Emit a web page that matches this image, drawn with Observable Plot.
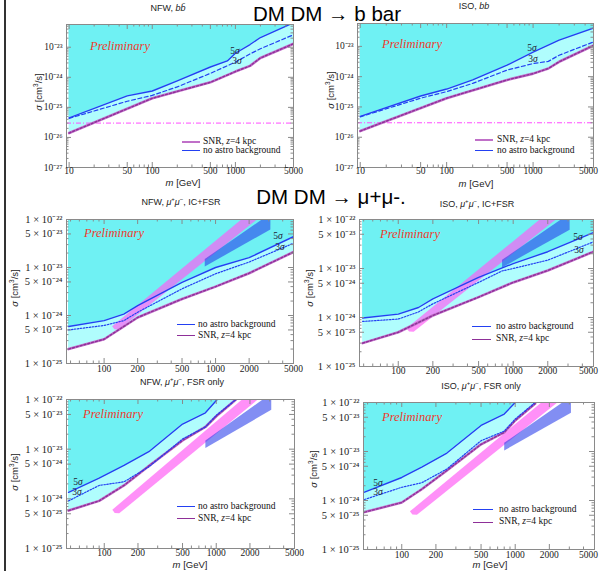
<!DOCTYPE html>
<html><head><meta charset="utf-8">
<script src="https://cdn.jsdelivr.net/npm/d3@7"></script>
<script src="https://cdn.jsdelivr.net/npm/@observablehq/plot@0.6"></script>
<style>
body{margin:0;background:#fff;}
#root{position:relative;width:600px;height:571px;overflow:hidden;background:#fff;font-family:"Liberation Sans",Arial,sans-serif;}
.panel{position:absolute;}
.t{position:absolute;white-space:nowrap;line-height:1;}
.ln{position:absolute;height:0;}
</style></head><body><div id="root"></div>
<script>
// ---------- tick labels ----------
const xTicksBB = [10, 50, 100, 500, 1000, 5000];
const xTicksMM = [100, 200, 500, 1000, 2000, 5000];
const yTicksBB = [1e-27, 1e-26, 1e-25, 1e-24, 1e-23];
const yLabelsBB = ["10⁻²⁷", "10⁻²⁶", "10⁻²⁵", "10⁻²⁴", "10⁻²³"];
const yTicksMM = [1e-25, 5e-25, 1e-24, 5e-24, 1e-23, 5e-23, 1e-22];
const yLabelsMM = ["1 × 10⁻²⁵", "5 × 10⁻²⁵", "1 × 10⁻²⁴", "5 × 10⁻²⁴", "1 × 10⁻²³", "5 × 10⁻²³", "1 × 10⁻²²"];

// ---------- DM DM -> b bbar, NFW ----------
const bbNFWMass5 = [10, 50, 100, 200, 500, 800, 1000, 1500, 2000, 5000];
const bbNFW5 = [4.5e-26, 2.4e-25, 3.5e-25, 7.6e-25, 2.2e-24, 3.5e-24, 6.3e-24, 1.23e-23, 2.1e-23, 6.5e-23];
const bbNFWMass3 = [10, 50, 100, 200, 500, 1000, 1500, 2000, 5000];
const bbNFW3 = [4.3e-26, 1.6e-25, 2.5e-25, 4.8e-25, 1.35e-24, 3.2e-24, 6.0e-24, 8.9e-24, 2.6e-23];
const bbNFWMassSNR = [10, 100, 500, 1000, 1500, 2000, 5000];
const bbNFWSNR = [1.4e-26, 2.0e-25, 6.8e-25, 1.55e-24, 2.4e-24, 4.4e-24, 1.3e-23];
// ---------- DM DM -> b bbar, ISO ----------
const bbISOMass5 = [10, 50, 100, 200, 500, 1000, 2000, 5000];
const bbISO5 = [4.9e-26, 2.3e-25, 3.9e-25, 7.8e-25, 2.4e-24, 6.5e-24, 1.6e-23, 4.0e-23];
const bbISOMass3 = [10, 50, 100, 200, 500, 1000, 1500, 2000, 5000];
const bbISO3 = [4.7e-26, 1.95e-25, 3.2e-25, 6.0e-25, 1.65e-24, 2.7e-24, 3.2e-24, 5.1e-24, 1.4e-23];
const bbISOMassSNR = [10, 100, 500, 1000, 1500, 2000, 5000];
const bbISOSNR = [1.6e-26, 1.95e-25, 7.8e-25, 1.26e-24, 1.86e-24, 3.1e-24, 1.07e-23];
const thermalRelic = [3e-26];

// ---------- DM DM -> mu+ mu-, IC+FSR, NFW ----------
const icNFWMass5 = [48, 100, 150, 200, 500, 1000, 2000, 5000];
const icNFW5 = [5.9e-25, 7.8e-25, 1.07e-24, 1.6e-24, 4.9e-24, 1.0e-23, 1.6e-23, 4.4e-23];
const icNFWMass3 = [48, 100, 150, 200, 500, 1000, 2000, 5000];
const icNFW3 = [5.0e-25, 6.2e-25, 7.8e-25, 1.17e-24, 3.6e-24, 7.4e-24, 1.3e-23, 3.2e-23];
const icNFWMassSNR = [48, 100, 200, 500, 1000, 2000, 5000];
const icNFWSNR = [2.0e-25, 3.2e-25, 9.1e-25, 2.2e-24, 4.0e-24, 7.6e-24, 2.1e-23];
// ---------- IC+FSR, ISO ----------
const icISOMass5 = [49, 100, 150, 200, 500, 1000, 2000, 5000];
const icISO5 = [9.8e-25, 1.17e-24, 1.6e-24, 2.4e-24, 6.6e-24, 1.26e-23, 2.2e-23, 5.4e-23];
const icISOMass3 = [49, 100, 150, 200, 500, 800, 1000, 2000, 5000];
const icISO3 = [8.3e-25, 9.3e-25, 1.3e-24, 1.9e-24, 5.2e-24, 8.9e-24, 1.0e-23, 1.48e-23, 3.5e-23];
const icISOMassSNR = [49, 100, 200, 500, 1000, 2000, 5000];
const icISOSNR = [3.0e-25, 5.0e-25, 1.1e-24, 2.6e-24, 5.2e-24, 9.1e-24, 2.2e-23];

// ---------- FSR only, NFW ----------
const fsrNFWMass5 = [48, 90, 150, 250, 500, 800, 1020];
const fsrNFW5 = [1.35e-24, 2.6e-24, 4.7e-24, 8.9e-24, 3.2e-23, 5.4e-23, 1.0e-22];
const fsrNFWMass3 = [48, 90, 150, 250, 500, 800, 1000, 1500];
const fsrNFW3 = [9.1e-25, 1.86e-24, 2.2e-24, 4.4e-24, 1.6e-23, 2.8e-23, 4.8e-23, 1.0e-22];
const fsrNFWMassSNR = [48, 90, 150, 250, 500, 800, 1000, 1500];
const fsrNFWSNR = [5.8e-25, 9.1e-25, 1.86e-24, 4.6e-24, 1.5e-23, 2.8e-23, 4.6e-23, 1.0e-22];
// ---------- FSR only, ISO ----------
const fsrISOMass5 = [47, 100, 150, 250, 500, 800, 1000];
const fsrISO5 = [1.48e-24, 2.95e-24, 4.8e-24, 9.3e-24, 3.4e-23, 5.8e-23, 1.0e-22];
const fsrISOMass3 = [47, 100, 150, 250, 500, 800, 1000, 1500];
const fsrISO3 = [1.05e-24, 1.86e-24, 2.3e-24, 4.4e-24, 1.66e-23, 2.6e-23, 4.6e-23, 1.0e-22];
const fsrISOMassSNR = [47, 100, 150, 250, 500, 800, 1000, 1500];
const fsrISOSNR = [5.8e-25, 9.1e-25, 1.7e-24, 4.1e-24, 1.4e-23, 2.45e-23, 4.3e-23, 9.5e-23];

// ---------- favoured regions (polygons) ----------
const pinkBandMass = [118, 124, 136, 2350, 1700];
const pinkBandSigma = [6.0e-25, 5.2e-25, 5.1e-25, 1e-22, 1e-22];
const blueBandMass = [800, 2600, 3100, 3100, 800];
const blueBandSigma = [1.5e-23, 1e-22, 1e-22, 6.2e-23, 1.05e-23];

// ---------- styling ----------
const LIGHT = "#b0fdfd", DARK = "#6ff1f3";
const BLUE = "#2340f2", PURPLE = "#8e2f98", PURPLE_L = "#c070c8";
const FRAME = "#8a8a8a";

const rows = (ms, vs) => ms.map((m, i) => ({m, s: vs[i]}));
const root = document.getElementById("root");

function minorTicks(lo, hi, mults) {
  const out = [];
  for (let e = -30; e <= 6; e++) for (const k of mults) {
    const v = k * Math.pow(10, e);
    if (v > lo * 1.0001 && v < hi * 0.9999) out.push(v);
  }
  return out;
}

function panel(c) {
  const fw = c.width - c.ml - c.mr, fh = c.height - c.mt - c.mb;
  const yTop = c.yDomain[1];
  const s5 = rows(c.s5[0], c.s5[1]), s3 = rows(c.s3[0], c.s3[1]), snr = rows(c.snr[0], c.snr[1]);
  const xMin = minorTicks(c.xDomain[0], c.xDomain[1], [2,3,4,5,6,7,8,9]).filter(v => !c.xTicks.includes(v));
  const yMin = minorTicks(c.yDomain[0], c.yDomain[1], [2,3,4,5,6,7,8,9]).filter(v => !c.yTicks.some(t => Math.abs(t - v) / v < 1e-6));
  const marks = [
    Plot.areaY(snr, {x: "m", y1: "s", y2: () => yTop, fill: LIGHT, clip: true}),
    Plot.areaY(s5, {x: "m", y1: "s", y2: () => yTop, fill: DARK, clip: true})
  ];
  if (c.relic) marks.push(Plot.ruleY(thermalRelic, {stroke: "#ff4cff", strokeWidth: 1, strokeDasharray: "5,2,1,2"}));
  if (c.bands) {
    marks.push(Plot.line(rows(pinkBandMass, pinkBandSigma), {x: "m", y: "s", fill: "#ff5cf5", fillOpacity: 0.68, stroke: "none", clip: true}));
    marks.push(Plot.line(rows(blueBandMass, blueBandSigma), {x: "m", y: "s", fill: "#283ceb", fillOpacity: 0.58, stroke: "none", clip: true}));
  }
  const lastDx = c.lastDx || 0;
  marks.push(
    Plot.line(snr, {x: "m", y: "s", stroke: PURPLE_L, strokeWidth: 2.6, clip: true}),
    Plot.line(snr, {x: "m", y: "s", stroke: PURPLE, strokeWidth: 1.4, strokeDasharray: "2,2", clip: true}),
    Plot.line(s3, {x: "m", y: "s", stroke: BLUE, strokeWidth: 1.2, strokeDasharray: c.dash3, clip: true}),
    Plot.line(s5, {x: "m", y: "s", stroke: BLUE, strokeWidth: 1.4, clip: true}),
    Plot.frame({stroke: FRAME, strokeWidth: 1}),
    // inward ticks on all four sides
    Plot.tickX(c.xTicks, {x: d => d, insetTop: fh - 5, stroke: FRAME}),
    Plot.tickX(c.xTicks, {x: d => d, insetBottom: fh - 5, stroke: FRAME}),
    Plot.tickX(xMin, {x: d => d, insetTop: fh - 2.5, stroke: FRAME}),
    Plot.tickX(xMin, {x: d => d, insetBottom: fh - 2.5, stroke: FRAME}),
    Plot.tickY(c.yTicks, {y: d => d, insetRight: fw - 5, stroke: FRAME}),
    Plot.tickY(c.yTicks, {y: d => d, insetLeft: fw - 5, stroke: FRAME}),
    Plot.tickY(yMin, {y: d => d, insetRight: fw - 2.5, stroke: FRAME}),
    Plot.tickY(yMin, {y: d => d, insetLeft: fw - 2.5, stroke: FRAME}),
    Plot.text(c.xTicks.slice(0, -1), {x: d => d, text: d => String(d), frameAnchor: "bottom", dy: c.xdy, fontSize: 9.5, fill: "#222"}),
    Plot.text(c.xTicks.slice(-1), {x: d => d, text: d => String(d), frameAnchor: "bottom", dy: c.xdy, dx: lastDx, fontSize: 9.5, fill: "#222"}),
    Plot.text(c.yTicks, {y: d => d, text: (d, i) => c.yLabels[i], frameAnchor: "left", dx: -4, textAnchor: "end", fontSize: c.yfs, fill: "#222"})
  );
  const svg = Plot.plot({
    width: c.width, height: c.height,
    marginLeft: c.ml, marginRight: c.mr, marginTop: c.mt, marginBottom: c.mb,
    x: {type: "log", domain: c.xDomain, axis: null},
    y: {type: "log", domain: c.yDomain, axis: null},
    style: {background: "transparent", overflow: "visible", fontFamily: "'Liberation Serif', 'Times New Roman', serif"},
    marks
  });
  const div = document.createElement("div");
  div.className = "panel";
  div.style.left = c.left + "px"; div.style.top = c.top + "px"; div.style.width = c.width + "px";
  div.appendChild(svg);
  root.appendChild(div);
}

const bbCommon = {width: 300, height: 190, xDomain: [9.3, 5000], yDomain: [1e-27, 5.7e-23], xTicks: xTicksBB, yTicks: yTicksBB, yLabels: yLabelsBB, relic: true, dash3: "4,2.5", xdy: 6, yfs: 9.5};
const mmCommon = {xDomain: [46, 5000], yDomain: [1e-25, 1e-22], xTicks: xTicksMM, yTicks: yTicksMM, yLabels: yLabelsMM, bands: true, dash3: "1.5,1.5", yfs: 10.5};

panel({...bbCommon, left: 0, top: 0, ml: 66, mr: 7, mt: 24, mb: 23,
  s5: [bbNFWMass5, bbNFW5], s3: [bbNFWMass3, bbNFW3], snr: [bbNFWMassSNR, bbNFWSNR]});
panel({...bbCommon, left: 300, top: 0, ml: 57, mr: 7, mt: 23, mb: 23, lastDx: -5,
  s5: [bbISOMass5, bbISO5], s3: [bbISOMass3, bbISO3], snr: [bbISOMassSNR, bbISOSNR]});
panel({...mmCommon, left: 0, top: 190, width: 300, height: 190, ml: 66, mr: 7, mt: 29, mb: 17, xdy: 8,
  s5: [icNFWMass5, icNFW5], s3: [icNFWMass3, icNFW3], snr: [icNFWMassSNR, icNFWSNR]});
panel({...mmCommon, left: 300, top: 190, width: 300, height: 190, ml: 59, mr: 7, mt: 29, mb: 14, xdy: 7, lastDx: -5,
  s5: [icISOMass5, icISO5], s3: [icISOMass3, icISO3], snr: [icISOMassSNR, icISOSNR]});
panel({...mmCommon, left: 0, top: 375, width: 300, height: 196, ml: 66, mr: 6, mt: 24, mb: 23, xdy: 7,
  s5: [fsrNFWMass5, fsrNFW5], s3: [fsrNFWMass3, fsrNFW3], snr: [fsrNFWMassSNR, fsrNFWSNR]});
panel({...mmCommon, left: 300, top: 375, width: 300, height: 196, ml: 63, mr: 6, mt: 27, mb: 22, xdy: 8, lastDx: -6,
  s5: [fsrISOMass5, fsrISO5], s3: [fsrISOMass3, fsrISO3], snr: [fsrISOMassSNR, fsrISOSNR]});

// ---------- text overlay ----------
function addText(html, x, y, style = {}, anchor = "middle", rotate = 0) {
  const d = document.createElement("div");
  d.className = "t";
  d.innerHTML = html;
  d.style.left = x + "px"; d.style.top = y + "px";
  const tx = anchor === "start" ? "0" : "-50%";
  d.style.transform = `translate(${tx},-50%)` + (rotate ? ` rotate(${rotate}deg)` : "");
  Object.assign(d.style, style);
  root.appendChild(d);
}
function addLine(x1, x2, y, color, w) {
  const d = document.createElement("div");
  d.className = "ln";
  d.style.left = x1 + "px"; d.style.top = (y - w / 2) + "px";
  d.style.width = (x2 - x1) + "px"; d.style.borderTop = `${w}px solid ${color}`;
  root.appendChild(d);
}
const sans = {fontFamily: "'Liberation Sans', Arial, sans-serif", color: "#222"};
const serif = {fontFamily: "'Liberation Serif', 'Times New Roman', serif", color: "#111"};
const prelim = {fontFamily: "'Liberation Serif', 'Times New Roman', serif", fontStyle: "italic", color: "#ee3a2c", fontSize: "12.5px"};

// slide border
const border = document.createElement("div");
border.style.cssText = "position:absolute;left:4px;top:0;width:1.5px;height:571px;background:#333;";
root.appendChild(border);

// big headings
addText("DM DM → b bar", 327, 14, {...sans, color: "#000", fontSize: "20.5px"});
addText("DM DM → μ+μ-.", 331, 197, {...sans, color: "#000", fontSize: "20.5px"});

// panel titles
const mm = "<i>μ</i><sup style='font-size:6px'>+</sup><i>μ</i><sup style='font-size:6px'>−</sup>";
addText("NFW, <i>bb̄</i>", 168, 8, {...sans, fontSize: "9px"});
addText("ISO, <i>bb</i>", 474, 6, {...sans, fontSize: "9px"});
addText(`NFW, ${mm}, IC+FSR`, 181, 201, {...sans, fontSize: "9px"});
addText(`ISO, ${mm}, IC+FSR`, 477, 203, {...sans, fontSize: "9px"});
addText(`NFW, ${mm}, FSR only`, 182, 381, {...sans, fontSize: "9px"});
addText(`ISO, ${mm}, FSR only`, 481, 385, {...sans, fontSize: "9px"});

// axis titles
const xl = "<i>m</i> [GeV]";
addText(xl, 183, 183, {...sans, fontSize: "9.5px"});
addText(xl, 476, 184, {...sans, fontSize: "9.5px"});
addText(xl, 190, 565, {...sans, fontSize: "9.5px"});
addText(xl, 490, 565, {...sans, fontSize: "9.5px"});
const yl = "<i>σ</i> [cm<sup style='font-size:6.5px'>3</sup>/s]";
addText(yl, 38, 92, {...sans, fontSize: "9.5px"}, "middle", -90);
addText(yl, 330, 90, {...sans, fontSize: "9.5px"}, "middle", -90);
addText(yl, 14, 288, {...sans, fontSize: "9.5px"}, "middle", -90);
addText(yl, 309, 288, {...sans, fontSize: "9.5px"}, "middle", -90);
addText(yl, 14, 472, {...sans, fontSize: "9.5px"}, "middle", -90);
addText(yl, 313, 469, {...sans, fontSize: "9.5px"}, "middle", -90);

// Preliminary
addText("Preliminary", 120, 46, prelim);
addText("Preliminary", 412, 44, prelim);
addText("Preliminary", 114, 233, prelim);
addText("Preliminary", 410, 234, prelim);
addText("Preliminary", 113, 414, prelim);
addText("Preliminary", 412, 417, prelim);

// sigma labels
const sg = {...serif, fontSize: "9.5px", color: "#223"};
const s5 = "5<i>σ</i>", s3 = "3<i>σ</i>";
addText(s5, 235, 52, sg); addText(s3, 237, 62, sg);
addText(s5, 532, 49, sg); addText(s3, 533, 60, sg);
addText(s5, 278, 237, sg); addText(s3, 280, 248, sg);
addText(s5, 578, 238, sg); addText(s3, 579, 251, sg);
addText(s5, 78, 483, sg); addText(s3, 77, 493, sg);
addText(s5, 378, 484, sg); addText(s3, 378, 493, sg);

// legends
const lg = {...serif, fontSize: "9.5px"};
const snrTxt = "SNR, <i>z</i>=4 kpc", noTxt = "no astro background";
addLine(182, 200, 141.5, PURPLE_L, 2); addText(snrTxt, 203, 141.5, lg, "start");
addLine(182, 200, 150.5, BLUE, 1.4); addText(noTxt, 203, 150.5, lg, "start");
addLine(475, 493, 140, PURPLE_L, 2); addText(snrTxt, 497, 140, lg, "start");
addLine(475, 493, 150.5, BLUE, 1.4); addText(noTxt, 497, 150.5, lg, "start");
addLine(177, 195, 325, BLUE, 1.4); addText(noTxt, 198, 325, lg, "start");
addLine(177, 195, 335.7, PURPLE, 1.6); addText(snrTxt, 198, 335.7, lg, "start");
addLine(472, 491, 326.7, BLUE, 1.4); addText(noTxt, 496, 326.7, lg, "start");
addLine(472, 491, 339.3, PURPLE, 1.6); addText(snrTxt, 496, 339.3, lg, "start");
addLine(177, 195, 506.7, BLUE, 1.4); addText(noTxt, 198, 506.7, lg, "start");
addLine(177, 195, 519, PURPLE, 1.6); addText(snrTxt, 198, 519, lg, "start");
addLine(473, 493, 510, BLUE, 1.4); addText(noTxt, 499, 510, lg, "start");
addLine(473, 493, 522.3, PURPLE, 1.6); addText(snrTxt, 499, 522.3, lg, "start");
</script></body></html>
